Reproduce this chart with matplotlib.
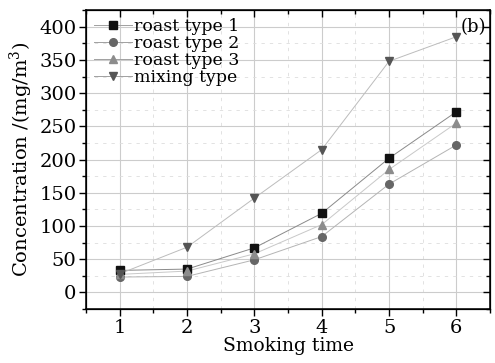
import numpy as np
import matplotlib.pyplot as plt
from matplotlib.ticker import MultipleLocator

plt.rcParams["font.family"] = ["DejaVu Serif"]
plt.rcParams["mathtext.fontset"] = "dejavuserif"

smoking_time = [1, 2, 3, 4, 5, 6]
roast_type_1 = [33, 35, 67, 119, 202, 272]
roast_type_2 = [23, 24, 49, 84, 163, 222]
roast_type_3 = [27, 32, 58, 102, 185, 255]
mixing_type = [28, 68, 142, 215, 348, 385]

series = [
    ("roast type 1", roast_type_1, "s", "#111111", "#8a8a8a"),
    ("roast type 2", roast_type_2, "o", "#666666", "#b4b4b4"),
    ("roast type 3", roast_type_3, "^", "#8c8c8c", "#c8c8c8"),
    ("mixing type", mixing_type, "v", "#555555", "#bcbcbc"),
]

fig = plt.figure(figsize=(4.95, 3.63), dpi=100)
ax = fig.add_axes([0.174, 0.149, 0.816, 0.823])

for label, vals, mk, mc, lc in series:
    ax.plot(smoking_time, vals, color=lc, lw=0.7, zorder=3)
    ax.plot(smoking_time, vals, ls="none", marker=mk, ms=5.5,
            color=mc, zorder=4)
    # legend proxy
    ax.plot([], [], color="#a0a0a0", lw=0.7, marker=mk, ms=5.5,
            mfc=mc, mec=mc, label=label)

ax.set_xlim(0.5, 6.5)
ax.set_ylim(-25, 425)


def set_locators(a):
    a.xaxis.set_major_locator(MultipleLocator(1))
    a.xaxis.set_minor_locator(MultipleLocator(0.5))
    a.yaxis.set_major_locator(MultipleLocator(50))
    a.yaxis.set_minor_locator(MultipleLocator(25))


set_locators(ax)
ax.grid(which="major", color="#cccccc", lw=0.8, zorder=0)
ax.grid(which="minor", color="#dddddd", lw=0.6, ls=(0, (4, 6)), zorder=0)

ax.tick_params(which="both", direction="out", labelsize=14, width=1, pad=2)
ax.tick_params(which="major", length=5)
ax.tick_params(which="minor", length=3)
for sp in ax.spines.values():
    sp.set_linewidth(1.1)

# inward ticks on the top and right sides
ax_top = ax.twiny()
ax_right = ax.twinx()
for a in (ax_top, ax_right):
    a.set_xlim(ax.get_xlim())
    a.set_ylim(ax.get_ylim())
    set_locators(a)
    a.tick_params(which="both", direction="in", width=1,
                  labeltop=False, labelright=False,
                  labelbottom=False, labelleft=False)
    a.tick_params(which="major", length=5)
    a.tick_params(which="minor", length=3)
ax_top.tick_params(axis="y", which="both", left=False, right=False)
ax_right.tick_params(axis="x", which="both", top=False, bottom=False)

ax.set_xlabel("Smoking time", fontsize=13.5, labelpad=0)
ax.set_ylabel("Concentration /(mg/m$^3$)", fontsize=14, labelpad=3)

ax.text(0.99, 0.975, "(b)", transform=ax.transAxes, ha="right", va="top",
        fontsize=13)

handles, labels = ax.get_legend_handles_labels()
ax_right.legend(handles, labels, loc="upper left", frameon=False,
                fontsize=12.5, handlelength=2.2, handletextpad=0.1,
                labelspacing=0.0, borderaxespad=0.2, borderpad=0.25)

fig.savefig("out.png", dpi=100)
